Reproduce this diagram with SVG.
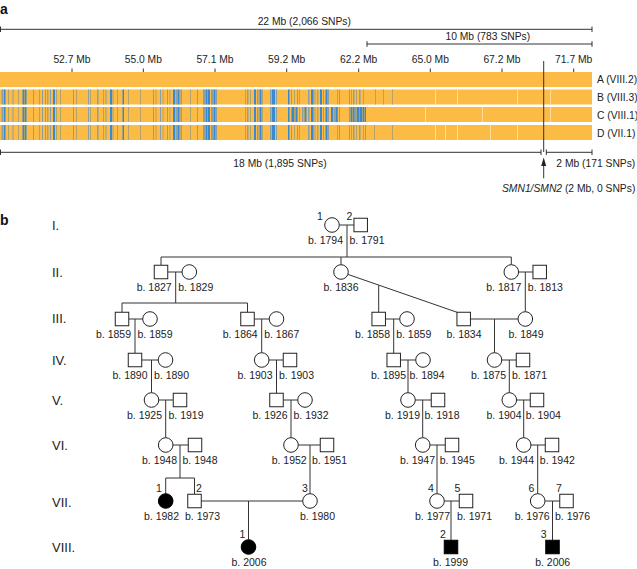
<svg xmlns="http://www.w3.org/2000/svg" width="637" height="569" viewBox="0 0 637 569">
<style>
.t{font-family:"Liberation Sans",Arial,Helvetica,sans-serif;font-size:10.3px;fill:#222}
.p{font-family:"Liberation Sans",Arial,Helvetica,sans-serif;font-size:10.5px;fill:#222}
.m{text-anchor:middle}
.e{text-anchor:end}
.gen{font-family:"Liberation Sans",Arial,Helvetica,sans-serif;font-size:13px;fill:#222}
.hd{font-family:"Liberation Sans",Arial,Helvetica,sans-serif;font-size:14px;font-weight:bold;fill:#111}
.ln{stroke:#333;stroke-width:1;fill:none}
.sym{fill:#fff;stroke:#222;stroke-width:1}
.aff{fill:#000;stroke:#000;stroke-width:1}
.or{fill:#fcbb45}
.b{fill:#3a89cf}
.g{fill:#8c9fa3}
.o{fill:#b3a36b}
.l{fill:#fedc9c}
</style>
<defs>
<g id="stripes">
<rect x="1.5" y="0" width="2" height="15" class="g"/>
<rect x="4" y="0" width="1.5" height="15" class="b"/>
<rect x="8" y="0" width="1" height="15" class="o"/>
<rect x="12.5" y="0" width="1" height="15" class="g"/>
<rect x="18" y="0" width="1" height="15" class="o"/>
<rect x="22.5" y="0" width="1.5" height="15" class="b"/>
<rect x="24.5" y="0" width="2" height="15" class="b"/>
<rect x="33" y="0" width="1" height="15" class="g"/>
<rect x="39" y="0" width="1" height="15" class="o"/>
<rect x="42" y="0" width="1" height="15" class="g"/>
<rect x="45" y="0" width="1" height="15" class="g"/>
<rect x="47" y="0" width="1.5" height="15" class="o"/>
<rect x="50" y="0" width="1" height="15" class="g"/>
<rect x="53" y="0" width="2" height="15" class="b"/>
<rect x="56" y="0" width="1" height="15" class="o"/>
<rect x="60" y="0" width="1" height="15" class="o"/>
<rect x="73" y="0" width="1" height="15" class="g"/>
<rect x="76" y="0" width="1" height="15" class="o"/>
<rect x="88" y="0" width="1" height="15" class="g"/>
<rect x="90" y="0" width="1" height="15" class="o"/>
<rect x="97" y="0" width="1.5" height="15" class="g"/>
<rect x="103" y="0" width="1" height="15" class="o"/>
<rect x="105.5" y="0" width="1" height="15" class="g"/>
<rect x="110" y="0" width="2" height="15" class="b"/>
<rect x="112.5" y="0" width="1" height="15" class="g"/>
<rect x="117" y="0" width="1" height="15" class="o"/>
<rect x="122.5" y="0" width="1.5" height="15" class="b"/>
<rect x="128" y="0" width="1" height="15" class="o"/>
<rect x="140" y="0" width="1" height="15" class="o"/>
<rect x="153" y="0" width="1" height="15" class="g"/>
<rect x="155.5" y="0" width="1" height="15" class="o"/>
<rect x="160" y="0" width="1" height="15" class="g"/>
<rect x="162.5" y="0" width="1" height="15" class="o"/>
<rect x="167" y="0" width="1" height="15" class="g"/>
<rect x="169.5" y="0" width="1" height="15" class="o"/>
<rect x="173" y="0" width="2" height="15" class="b"/>
<rect x="175.5" y="0" width="1.5" height="15" class="g"/>
<rect x="177.5" y="0" width="2" height="15" class="b"/>
<rect x="180.5" y="0" width="1.5" height="15" class="g"/>
<rect x="190" y="0" width="1" height="15" class="o"/>
<rect x="197" y="0" width="1" height="15" class="g"/>
<rect x="203" y="0" width="2" height="15" class="g"/>
<rect x="205.5" y="0" width="2" height="15" class="b"/>
<rect x="208" y="0" width="2" height="15" class="b"/>
<rect x="211" y="0" width="2" height="15" class="g"/>
<rect x="213.5" y="0" width="2" height="15" class="b"/>
<rect x="216" y="0" width="1" height="15" class="g"/>
<rect x="245" y="0" width="1" height="15" class="o"/>
<rect x="247" y="0" width="1.5" height="15" class="g"/>
<rect x="250" y="0" width="1" height="15" class="o"/>
<rect x="254" y="0" width="2" height="15" class="b"/>
<rect x="257" y="0" width="1.5" height="15" class="g"/>
<rect x="259.5" y="0" width="2" height="15" class="b"/>
<rect x="262" y="0" width="1" height="15" class="o"/>
<rect x="270" y="0" width="1.5" height="15" class="g"/>
<rect x="272" y="0" width="3" height="15" class="b"/>
<rect x="276" y="0" width="1" height="15" class="g"/>
<rect x="288" y="0" width="1.5" height="15" class="b"/>
<rect x="291" y="0" width="1" height="15" class="g"/>
<rect x="294" y="0" width="1" height="15" class="o"/>
<rect x="297" y="0" width="1" height="15" class="g"/>
<rect x="299" y="0" width="1" height="15" class="o"/>
<rect x="308" y="0" width="1.5" height="15" class="g"/>
<rect x="311" y="0" width="2.5" height="15" class="b"/>
<rect x="314.5" y="0" width="1" height="15" class="g"/>
<rect x="317" y="0" width="1.5" height="15" class="o"/>
<rect x="320" y="0" width="2" height="15" class="b"/>
<rect x="323" y="0" width="1" height="15" class="g"/>
<rect x="325.5" y="0" width="2" height="15" class="b"/>
<rect x="328" y="0" width="1" height="15" class="g"/>
<rect x="337" y="0" width="1" height="15" class="o"/>
<rect x="339" y="0" width="1" height="15" class="g"/>
<rect x="349" y="0" width="1" height="15" class="g"/>
<rect x="351" y="0" width="1" height="15" class="o"/>
<rect x="353" y="0" width="1.5" height="15" class="g"/>
<rect x="356" y="0" width="1" height="15" class="o"/>
<rect x="359" y="0" width="1.5" height="15" class="g"/>
<rect x="363" y="0" width="1" height="15" class="o"/>
</g>
</defs>

<g id="panel-a">
<text class="hd" x="0" y="13.5">a</text>
<g id="strip-A"><rect x="0" y="72" width="592" height="15" class="or"/></g>
<g id="strip-B">
<rect x="0" y="89.5" width="592" height="15" class="or"/>
<use href="#stripes" y="89.5"/>
<rect x="375" y="89.5" width="1" height="15" class="o"/>
<rect x="383" y="89.5" width="1" height="15" class="o"/>
<rect x="392" y="89.5" width="1" height="15" class="o"/>
<rect x="435" y="89.5" width="1" height="15" class="l"/>
<rect x="457" y="89.5" width="1" height="15" class="l"/>
<rect x="517" y="89.5" width="1" height="15" class="l"/>
<rect x="550" y="89.5" width="1" height="15" class="l"/>
</g>
<g id="strip-C">
<rect x="0" y="107" width="592" height="15" class="or"/>
<use href="#stripes" y="107"/>
<rect x="292" y="107" width="2" height="15" class="b"/>
<rect x="295.5" y="107" width="1.5" height="15" class="b"/>
<rect x="302" y="107" width="1.5" height="15" class="g"/>
<rect x="304.5" y="107" width="2" height="15" class="b"/>
<rect x="331" y="107" width="2" height="15" class="b"/>
<rect x="333.5" y="107" width="1.5" height="15" class="g"/>
<rect x="335.5" y="107" width="2" height="15" class="b"/>
<rect x="350.5" y="107" width="1.5" height="15" class="b"/>
<rect x="352.5" y="107" width="2" height="15" class="b"/>
<rect x="355" y="107" width="1.5" height="15" class="g"/>
<rect x="357" y="107" width="2" height="15" class="b"/>
<rect x="360" y="107" width="2" height="15" class="b"/>
<rect x="362.5" y="107" width="1.5" height="15" class="b"/>
<rect x="364.5" y="107" width="1.5" height="15" class="b"/>
<rect x="425" y="107" width="1" height="15" class="l"/>
<rect x="482" y="107" width="1" height="15" class="l"/>
<rect x="550" y="107" width="1" height="15" class="l"/>
</g>
<g id="strip-D">
<rect x="0" y="125" width="592" height="15" class="or"/>
<use href="#stripes" y="125"/>
<rect x="365" y="125" width="1" height="15" class="g"/>
<rect x="374" y="125" width="1" height="15" class="o"/>
<rect x="392" y="125" width="1" height="15" class="o"/>
<rect x="435" y="125" width="1" height="15" class="l"/>
<rect x="445" y="125" width="1" height="15" class="l"/>
<rect x="457" y="125" width="1" height="15" class="l"/>
<rect x="490" y="125" width="1" height="15" class="l"/>
<rect x="517" y="125" width="1" height="15" class="l"/>
</g>
<text class="t" x="597" y="83">A (VIII.2)</text>
<text class="t" x="597" y="101">B (VIII.3)</text>
<text class="t" x="597" y="118.5">C (VIII.1)</text>
<text class="t" x="597" y="136.5">D (VII.1)</text>

<g id="scale" class="ln">
<path d="M0.5 29.3H592M0.5 26.5V32M592 26.5V32"/>
<path d="M367 44H592M367 41.2V46.8M592 41.2V46.8"/>
<path d="M72 68.5V72M143.3 68.5V72M215 68.5V72M286.7 68.5V72M358.7 68.5V72M430.3 68.5V72M502 68.5V72M573.7 68.5V72"/>
<path d="M543.7 61V152"/>
<path d="M0.5 152.3H541M0.5 149.5V155M541 149.5V155"/>
<path d="M546.3 152.3H592M546.3 149.5V155M592 149.5V155"/>
<path d="M543.7 165V178.3"/>
</g>
<polygon points="543.7,157.5 541.2,166 546.2,166" fill="#222"/>
<text class="t m" x="304.3" y="25">22 Mb (2,066 SNPs)</text>
<text class="t m" x="487.8" y="40">10 Mb (783 SNPs)</text>
<text class="t m" x="72" y="63">52.7 Mb</text>
<text class="t m" x="143.3" y="63">55.0 Mb</text>
<text class="t m" x="215" y="63">57.1 Mb</text>
<text class="t m" x="286.7" y="63">59.2 Mb</text>
<text class="t m" x="358.7" y="63">62.2 Mb</text>
<text class="t m" x="430.3" y="63">65.0 Mb</text>
<text class="t m" x="502" y="63">67.2 Mb</text>
<text class="t m" x="573.7" y="63">71.7 Mb</text>
<text class="t m" x="280" y="166.5">18 Mb (1,895 SNPs)</text>
<text class="t" x="556.3" y="167">2 Mb (171 SNPs)</text>
<text class="t" x="502" y="191.5"><tspan font-style="italic">SMN1/SMN2</tspan> (2 Mb, 0 SNPs)</text>
</g>

<g id="panel-b-labels">
<text class="hd" x="0" y="225">b</text>
<text class="gen" x="52" y="230">I.</text>
<text class="gen" x="52" y="276.5">II.</text>
<text class="gen" x="52" y="323">III.</text>
<text class="gen" x="52" y="365">IV.</text>
<text class="gen" x="52" y="405">V.</text>
<text class="gen" x="52" y="450">VI.</text>
<text class="gen" x="52" y="506.5">VII.</text>
<text class="gen" x="52" y="552">VIII.</text>
</g>

<g id="connectors" class="ln">
<path d="M339.3 225H354M347 225V257"/>
<path d="M161 257H511.3M161 257V265.25M341 257V264.7M511.3 257V264.7"/>
<path d="M167.75 272H182M175.7 272V303"/>
<path d="M122 303H247.5M122 303V312.25M247.5 303V312.25"/>
<path d="M128.75 319H142.7M135 319V353.25"/>
<path d="M254.25 319H269.2M261.7 319V352.7"/>
<path d="M347.9 274.4L457 312.25M378.7 285.1V312.25"/>
<path d="M518.6 272H533M525.3 272V311.7"/>
<path d="M385.45 319H399.7M393.7 319V353.25"/>
<path d="M470.45 319H518M494.5 319V352.7"/>
<path d="M141.75 360H158.2M151.5 360V392.7"/>
<path d="M269 360H283.25M276.5 360V393.25"/>
<path d="M400.45 360H415.7M408 360V392.7"/>
<path d="M501.8 360H516.25M509.3 360V392.7"/>
<path d="M158.8 400H173.25M165.7 400V437.7"/>
<path d="M283.25 400H297.7M291 400V437.7"/>
<path d="M415.3 400H431.25M422.7 400V437.7"/>
<path d="M516.6 400H530.25M523.7 400V437.7"/>
<path d="M173 445H188.25M180 445V478"/>
<path d="M165.7 478H194.5M165.7 478V493.7M194.5 478V494.25"/>
<path d="M298.3 445H320.25M310 445V493.7"/>
<path d="M430 445H445.25M437 445V493.7"/>
<path d="M531 445H545.25M537.7 445V493.7"/>
<path d="M201.25 501H302.7M248.5 501V539.7"/>
<path d="M444.3 501H459.25M451 501V540.25"/>
<path d="M545.2 501H559.75M552.5 501V540.25"/>
</g>

<g id="I-1"><circle class="sym" cx="332" cy="225" r="7.3"/><text class="p m" x="320" y="219.5">1</text><text class="p e" x="343" y="244">b. 1794</text></g>
<g id="I-2"><rect class="sym" x="353.95" y="218.25" width="13.5" height="13.5"/><text class="p m" x="349.5" y="219.5">2</text><text class="p" x="349.5" y="244">b. 1791</text></g>

<g id="II-1"><rect class="sym" x="154.25" y="265.25" width="13.5" height="13.5"/><text class="p e" x="171.7" y="291">b. 1827</text></g>
<g id="II-2"><circle class="sym" cx="189.3" cy="272" r="7.3"/><text class="p" x="178.2" y="291">b. 1829</text></g>
<g id="II-3"><circle class="sym" cx="341" cy="272" r="7.3"/><text class="p m" x="341" y="291">b. 1836</text></g>
<g id="II-4"><circle class="sym" cx="511.3" cy="272" r="7.3"/><text class="p e" x="521.3" y="291">b. 1817</text></g>
<g id="II-5"><rect class="sym" x="532.95" y="265.25" width="13.5" height="13.5"/><text class="p" x="527.8" y="291">b. 1813</text></g>

<g id="III-1"><rect class="sym" x="115.25" y="312.25" width="13.5" height="13.5"/><text class="p e" x="131" y="338">b. 1859</text></g>
<g id="III-2"><circle class="sym" cx="150" cy="319" r="7.3"/><text class="p" x="137.5" y="338">b. 1859</text></g>
<g id="III-3"><rect class="sym" x="240.75" y="312.25" width="13.5" height="13.5"/><text class="p e" x="257.7" y="338">b. 1864</text></g>
<g id="III-4"><circle class="sym" cx="276.5" cy="319" r="7.3"/><text class="p" x="264.2" y="338">b. 1867</text></g>
<g id="III-5"><rect class="sym" x="371.95" y="312.25" width="13.5" height="13.5"/><text class="p e" x="390" y="338">b. 1858</text></g>
<g id="III-6"><circle class="sym" cx="407" cy="319" r="7.3"/><text class="p" x="396.2" y="338">b. 1859</text></g>
<g id="III-7"><rect class="sym" x="456.95" y="312.25" width="13.5" height="13.5"/><text class="p m" x="464" y="338">b. 1834</text></g>
<g id="III-8"><circle class="sym" cx="525.3" cy="319" r="7.3"/><text class="p m" x="526" y="338">b. 1849</text></g>

<g id="IV-1"><rect class="sym" x="128.25" y="353.25" width="13.5" height="13.5"/><text class="p e" x="147.5" y="379">b. 1890</text></g>
<g id="IV-2"><circle class="sym" cx="165.5" cy="360" r="7.3"/><text class="p" x="154" y="379">b. 1890</text></g>
<g id="IV-3"><circle class="sym" cx="261.7" cy="360" r="7.3"/><text class="p e" x="272.5" y="379">b. 1903</text></g>
<g id="IV-4"><rect class="sym" x="283.25" y="353.25" width="13.5" height="13.5"/><text class="p" x="279" y="379">b. 1903</text></g>
<g id="IV-5"><rect class="sym" x="386.95" y="353.25" width="13.5" height="13.5"/><text class="p e" x="406" y="379">b. 1895</text></g>
<g id="IV-6"><circle class="sym" cx="423" cy="360" r="7.3"/><text class="p" x="409.5" y="379">b. 1894</text></g>
<g id="IV-7"><circle class="sym" cx="494.5" cy="360" r="7.3"/><text class="p e" x="506" y="379">b. 1875</text></g>
<g id="IV-8"><rect class="sym" x="516.25" y="353.25" width="13.5" height="13.5"/><text class="p" x="512" y="379">b. 1871</text></g>

<g id="V-1"><circle class="sym" cx="151.5" cy="400" r="7.3"/><text class="p e" x="162" y="419">b. 1925</text></g>
<g id="V-2"><rect class="sym" x="173.25" y="393.25" width="13.5" height="13.5"/><text class="p" x="168.5" y="419">b. 1919</text></g>
<g id="V-3"><rect class="sym" x="269.75" y="393.25" width="13.5" height="13.5"/><text class="p e" x="287.5" y="419">b. 1926</text></g>
<g id="V-4"><circle class="sym" cx="305" cy="400" r="7.3"/><text class="p" x="293.5" y="419">b. 1932</text></g>
<g id="V-5"><circle class="sym" cx="408" cy="400" r="7.3"/><text class="p e" x="420" y="419">b. 1919</text></g>
<g id="V-6"><rect class="sym" x="431.25" y="393.25" width="13.5" height="13.5"/><text class="p" x="424.5" y="419">b. 1918</text></g>
<g id="V-7"><circle class="sym" cx="509.3" cy="400" r="7.3"/><text class="p e" x="521.5" y="419">b. 1904</text></g>
<g id="V-8"><rect class="sym" x="530.25" y="393.25" width="13.5" height="13.5"/><text class="p" x="525.8" y="419">b. 1904</text></g>

<g id="VI-1"><circle class="sym" cx="165.7" cy="445" r="7.3"/><text class="p e" x="177" y="464">b. 1948</text></g>
<g id="VI-2"><rect class="sym" x="188.25" y="438.25" width="13.5" height="13.5"/><text class="p" x="182.5" y="464">b. 1948</text></g>
<g id="VI-3"><circle class="sym" cx="291" cy="445" r="7.3"/><text class="p e" x="306.7" y="464">b. 1952</text></g>
<g id="VI-4"><rect class="sym" x="320.25" y="438.25" width="13.5" height="13.5"/><text class="p" x="312" y="464">b. 1951</text></g>
<g id="VI-5"><circle class="sym" cx="422.7" cy="445" r="7.3"/><text class="p e" x="435" y="464">b. 1947</text></g>
<g id="VI-6"><rect class="sym" x="445.25" y="438.25" width="13.5" height="13.5"/><text class="p" x="439.7" y="464">b. 1945</text></g>
<g id="VI-7"><circle class="sym" cx="523.7" cy="445" r="7.3"/><text class="p e" x="534" y="464">b. 1944</text></g>
<g id="VI-8"><rect class="sym" x="545.25" y="438.25" width="13.5" height="13.5"/><text class="p" x="539.8" y="464">b. 1942</text></g>

<g id="VII-1"><circle class="aff" cx="165.7" cy="501" r="7.3"/><text class="p m" x="159" y="492">1</text><text class="p e" x="179" y="520">b. 1982</text></g>
<g id="VII-2"><rect class="sym" x="187.75" y="494.25" width="13.5" height="13.5"/><text class="p m" x="199" y="492">2</text><text class="p" x="185" y="520">b. 1973</text></g>
<g id="VII-3"><circle class="sym" cx="310" cy="501" r="7.3"/><text class="p m" x="305" y="492">3</text><text class="p" x="300" y="520">b. 1980</text></g>
<g id="VII-4"><circle class="sym" cx="437" cy="501" r="7.3"/><text class="p m" x="431" y="492">4</text><text class="p e" x="450" y="520">b. 1977</text></g>
<g id="VII-5"><rect class="sym" x="459.25" y="494.25" width="13.5" height="13.5"/><text class="p m" x="457.5" y="492">5</text><text class="p" x="457" y="520">b. 1971</text></g>
<g id="VII-6"><circle class="sym" cx="537.7" cy="501" r="7.3"/><text class="p m" x="531.5" y="492">6</text><text class="p e" x="549.7" y="520">b. 1976</text></g>
<g id="VII-7"><rect class="sym" x="559.75" y="494.25" width="13.5" height="13.5"/><text class="p m" x="559" y="492">7</text><text class="p" x="555" y="520">b. 1976</text></g>

<g id="VIII-1"><circle class="aff" cx="248.5" cy="547" r="7.3"/><text class="p m" x="242.5" y="537.5">1</text><text class="p m" x="249" y="566">b. 2006</text></g>
<g id="VIII-2"><rect class="aff" x="444.25" y="540.25" width="13.5" height="13.5"/><text class="p m" x="443" y="537.5">2</text><text class="p m" x="450.5" y="566">b. 1999</text></g>
<g id="VIII-3"><rect class="aff" x="545.75" y="540.25" width="13.5" height="13.5"/><text class="p m" x="543.7" y="537.5">3</text><text class="p m" x="552.7" y="566">b. 2006</text></g>
</svg>
